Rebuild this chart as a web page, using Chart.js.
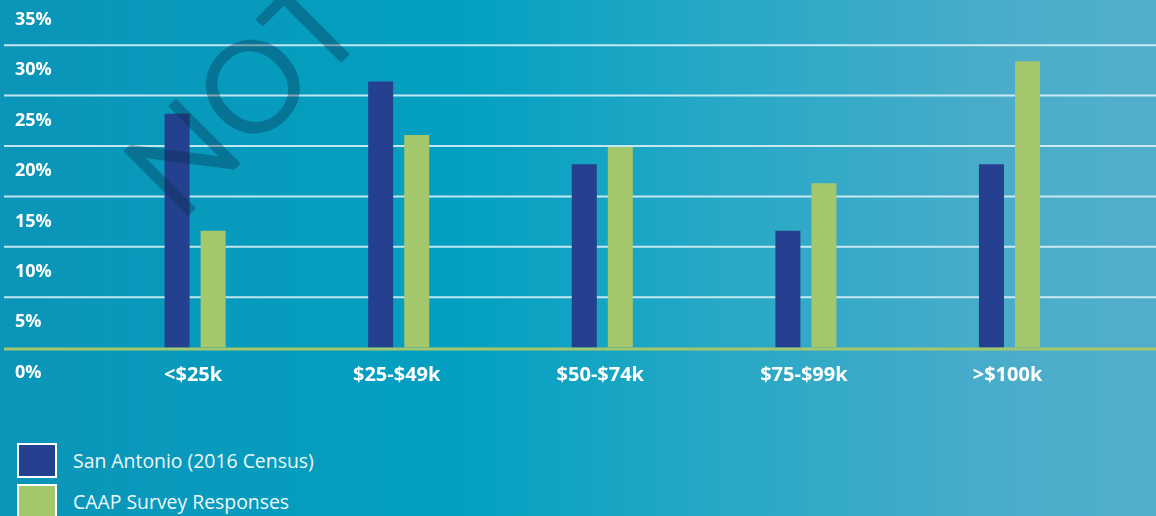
<!DOCTYPE html>
<html>
<head>
<meta charset="utf-8">
<script src="https://cdn.jsdelivr.net/npm/chart.js@4"></script>
<style>
  html, body { margin: 0; padding: 0; }
  body {
    width: 1156px; height: 516px; overflow: hidden; position: relative;
    background: linear-gradient(to right, #0b95b8 0%, #03a0c1 40%, #26a8c6 62%, #4badca 88%, #52afcb 100%);
    font-family: "Open Sans", sans-serif;
  }
  #wrap { position: absolute; left: 0; top: -19.25px; width: 1156px; height: 419.25px; }
  #legend { position: absolute; left: 17px; top: 443px; }
  .item { display: flex; align-items: center; height: 35px; margin-bottom: 6px; }
  .box { width: 40px; height: 35px; box-sizing: border-box; border: 2px solid #fff; }
  .txt { margin-left: 16px; color: #eef7fa; font-size: 19.4px; font-weight: 400; }
</style>
</head>
<body>
<div id="wrap"><canvas id="chart"></canvas></div>
<div id="legend"></div>
<script>
// income brackets and share of households (%)
const categories = ['<$25k', '$25-$49k', '$50-$74k', '$75-$99k', '>$100k'];
const sanAntonio = [23.2, 26.4, 18.2, 11.6, 18.2];
const caapSurvey = [11.6, 21.1, 19.9, 16.3, 28.4];
const seriesNames = ['San Antonio (2016 Census)', 'CAAP Survey Responses'];
const yTicks = [0, 5, 10, 15, 20, 25, 30, 35];

const navy = '#25408f';
const green = '#a5c76c';

// gridlines run the full width of the page, baseline is green
const gridPlugin = {
  id: 'fullGrid',
  beforeDatasetsDraw(chart) {
    const { ctx, scales: { y } } = chart;
    ctx.save();
    yTicks.forEach(v => {
      const py = y.getPixelForValue(v);
      if (v === 0) {
        ctx.strokeStyle = green;
        ctx.lineWidth = 3;
        ctx.beginPath();
        ctx.moveTo(4, py + 1.5);
        ctx.lineTo(chart.width, py + 1.5);
        ctx.stroke();
      } else {
        ctx.strokeStyle = 'rgba(225, 245, 250, 0.85)';
        ctx.lineWidth = 2;
        ctx.beginPath();
        ctx.moveTo(4, py);
        ctx.lineTo(chart.width, py);
        ctx.stroke();
      }
    });
    ctx.restore();
  }
};

// faint stamp across the top left corner
const stampPlugin = {
  id: 'stamp',
  afterDraw(chart) {
    const ctx = chart.ctx;
    ctx.save();
    ctx.translate(180, 224 + 19.25);
    ctx.rotate(-Math.PI / 4);
    ctx.font = '400 128px Lato';
    ctx.fillStyle = 'rgba(10, 40, 70, 0.34)';
    ctx.textBaseline = 'alphabetic';
    ctx.fillText('NOT FOR DISTRIBUTION', 0, 0);
    ctx.restore();
  }
};

const chart = new Chart(document.getElementById('chart'), {
  type: 'bar',
  data: {
    labels: categories,
    datasets: [
      { label: seriesNames[0], data: sanAntonio, backgroundColor: navy },
      { label: seriesNames[1], data: caapSurvey, backgroundColor: green }
    ]
  },
  options: {
    responsive: true,
    maintainAspectRatio: false,
    animation: false,
    barPercentage: 0.694,
    categoryPercentage: 0.354,
    layout: { padding: { top: 0, left: 15, right: 44.7, bottom: 0 } },
    plugins: {
      legend: { display: false },
      tooltip: { enabled: false }
    },
    scales: {
      x: {
        grid: { display: false },
        border: { display: false },
        ticks: {
          color: '#fff',
          padding: 8,
          labelOffset: -2,
          font: { family: 'Open Sans', size: 20, weight: 'bold' }
        },
        afterFit(scale) { scale.height = 52.7; }
      },
      y: {
        min: 0,
        max: 35,
        grid: { display: false },
        border: { display: false },
        afterBuildTicks(scale) { scale.ticks = yTicks.map(v => ({ value: v })); },
        ticks: {
          color: '#fff',
          crossAlign: 'far',
          labelOffset: 25,
          font: { family: 'Open Sans', size: 18, weight: 'bold' },
          callback: v => v + '%'
        },
        afterFit(scale) { scale.width = 78.3; }
      }
    }
  },
  plugins: [gridPlugin, stampPlugin]
});

// legend built from the chart's datasets
const legend = document.getElementById('legend');
chart.data.datasets.forEach(ds => {
  const item = document.createElement('div');
  item.className = 'item';
  const box = document.createElement('div');
  box.className = 'box';
  box.style.background = ds.backgroundColor;
  const txt = document.createElement('span');
  txt.className = 'txt';
  txt.textContent = ds.label;
  item.appendChild(box);
  item.appendChild(txt);
  legend.appendChild(item);
});
</script>
</body>
</html>
